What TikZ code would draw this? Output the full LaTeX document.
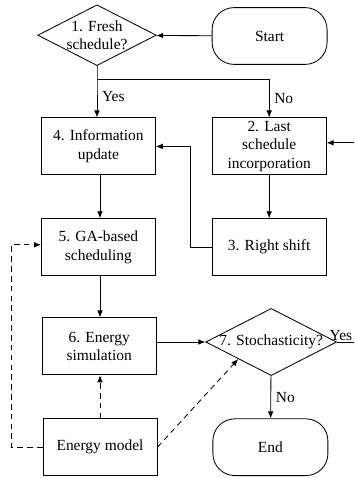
\documentclass[tikz,border=0pt]{standalone}
\usepackage{fontspec}
\setmainfont{Liberation Serif}
\usetikzlibrary{positioning,shapes.geometric,arrows.meta}

\begin{document}
\begin{tikzpicture}[font=\fontsize{11}{13.2}\selectfont, line width=0.6pt,
    procbox/.style={draw, rectangle, minimum width=2.85cm, minimum height=1.425cm, align=center, inner sep=1pt},
    decision/.style={draw, diamond, aspect=1.95, inner sep=0pt, align=center},
    terminal/.style={draw, rectangle, rounded corners=0.55cm, minimum width=2.875cm, minimum height=1.42cm},
    arr/.style={-{Latex[length=5pt,width=4pt]}},
    dasharr/.style={arr, dashed, dash pattern=on 4pt off 3pt}]
    % Frame
    \useasboundingbox (0,0) rectangle (8.85,-11.95);
    \clip (0,0) rectangle (8.85,-11.95);

    % Top row
    \node[decision, minimum width=2.85cm, minimum height=1.475cm] (fresh) at (2.425,-0.88) {1. Fresh\\schedule?};
    \node[terminal] (start) at (6.74,-0.9) {Start};

    % Left column
    \node[procbox] (info) at (2.46,-3.66) {4. Information\\update};
    \node[procbox] (ga) at (2.46,-6.18) {5. GA-based\\scheduling};
    \node[procbox] (sim) at (2.48,-8.66) {6. Energy\\simulation};
    \node[procbox] (model) at (2.5,-11.18) {Energy model};

    % Right column
    \node[procbox] (last) at (6.73,-3.66) {2. Last\\schedule\\incorporation};
    \node[procbox] (shift) at (6.73,-6.18) {3. Right shift};
    \node[decision, minimum width=3.1cm, minimum height=1.5cm] (stoch) at (6.78,-8.55) {7. Stochasticity?};
    \node[terminal] (end) at (6.76,-11.18) {End};

    % Solid flow
    \draw[arr] (start) -- (fresh);
    \coordinate (split) at (2.425,-1.98);
    \draw[arr] (fresh.south) -- (split) -- node[right, pos=0.45] {Yes} (info.north -| fresh.south);
    \draw[arr] (split) -| node[right, pos=0.75] {No} (last.north);
    \draw[arr] (last) -- (shift);
    \draw[arr] (shift.west) -- ++(-0.53,0) |- (info.east);
    \draw[arr] (info.south -| 2.5,0) -- (ga.north -| 2.5,0);
    \draw[arr] (ga.south -| 2.5,0) -- (sim.north -| 2.5,0);
    \draw[arr] (sim.east |- stoch.west) -- (stoch.west);
    \draw[arr] (stoch) -- node[right] {No} (end);
    \draw[arr] (stoch.east) -- ++(1.2,0) |- ([yshift=0.09cm]last.east);
    \node[anchor=south east, inner sep=1pt] (yeslbl) at (8.85,-8.55) {Yes};

    % Energy model links
    \draw[dasharr] (model.north -| 2.5,0) -- (sim.south -| 2.5,0);
    \draw[dasharr] (model.east) -- (stoch.south west);
    \draw[dasharr] (model.west) -- ++(-0.78,0) |- ([yshift=0.06cm]ga.west);
\end{tikzpicture}
\end{document}
